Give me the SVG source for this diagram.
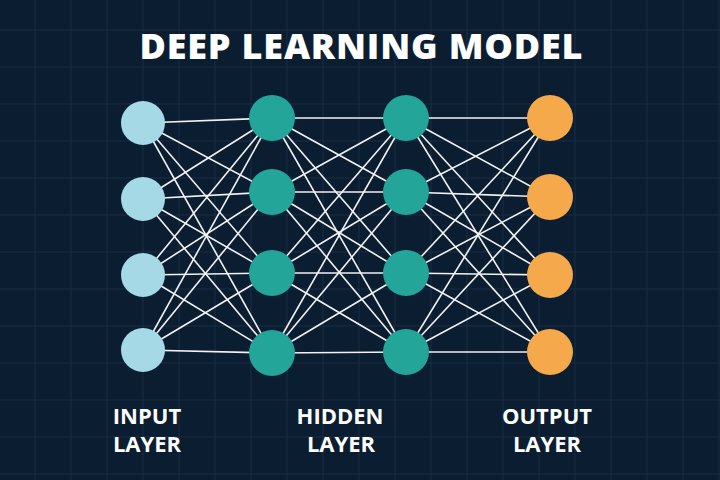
<svg xmlns="http://www.w3.org/2000/svg" width="720" height="480" viewBox="0 0 720 480">
<defs>
<pattern id="grid" x="0" y="-5" width="36" height="37" patternUnits="userSpaceOnUse">
<path d="M35 0V37M0 35H36" stroke="#172c43" stroke-width="1" fill="none"/>
</pattern>
<style>
.t{font-family:"Open Sans","Noto Sans","Liberation Sans",sans-serif;font-weight:800;fill:#ffffff;text-anchor:middle}
.l{font-weight:700}
.c line{stroke:#f2f2f2;stroke-width:1.6}
.in{fill:#a6d9e6}
.hd{fill:#24a599}
.out{fill:#f5a94b}
</style>
</defs>
<rect width="720" height="480" fill="#0b1d31"/>
<rect width="720" height="480" fill="url(#grid)"/>
<text class="t" x="361" y="59" font-size="36" textLength="443" lengthAdjust="spacing">DEEP LEARNING MODEL</text>
<g class="c" id="connectors">
<line x1="143" y1="123" x2="272" y2="118"/><line x1="143" y1="123" x2="272" y2="192"/><line x1="143" y1="123" x2="272" y2="273"/><line x1="143" y1="123" x2="272" y2="353"/>
<line x1="143" y1="199" x2="272" y2="118"/><line x1="143" y1="199" x2="272" y2="192"/><line x1="143" y1="199" x2="272" y2="273"/><line x1="143" y1="199" x2="272" y2="353"/>
<line x1="143" y1="275" x2="272" y2="118"/><line x1="143" y1="275" x2="272" y2="192"/><line x1="143" y1="275" x2="272" y2="273"/><line x1="143" y1="275" x2="272" y2="353"/>
<line x1="143" y1="350" x2="272" y2="118"/><line x1="143" y1="350" x2="272" y2="192"/><line x1="143" y1="350" x2="272" y2="273"/><line x1="143" y1="350" x2="272" y2="353"/>
<line x1="272" y1="118" x2="406" y2="118"/><line x1="272" y1="118" x2="406" y2="192"/><line x1="272" y1="118" x2="406" y2="273"/><line x1="272" y1="118" x2="406" y2="352"/>
<line x1="272" y1="192" x2="406" y2="118"/><line x1="272" y1="192" x2="406" y2="192"/><line x1="272" y1="192" x2="406" y2="273"/><line x1="272" y1="192" x2="406" y2="352"/>
<line x1="272" y1="273" x2="406" y2="118"/><line x1="272" y1="273" x2="406" y2="192"/><line x1="272" y1="273" x2="406" y2="273"/><line x1="272" y1="273" x2="406" y2="352"/>
<line x1="272" y1="353" x2="406" y2="118"/><line x1="272" y1="353" x2="406" y2="192"/><line x1="272" y1="353" x2="406" y2="273"/><line x1="272" y1="353" x2="406" y2="352"/>
<line x1="406" y1="118" x2="550" y2="118"/><line x1="406" y1="118" x2="550" y2="197"/><line x1="406" y1="118" x2="550" y2="275"/><line x1="406" y1="118" x2="550" y2="352"/>
<line x1="406" y1="192" x2="550" y2="118"/><line x1="406" y1="192" x2="550" y2="197"/><line x1="406" y1="192" x2="550" y2="275"/><line x1="406" y1="192" x2="550" y2="352"/>
<line x1="406" y1="273" x2="550" y2="118"/><line x1="406" y1="273" x2="550" y2="197"/><line x1="406" y1="273" x2="550" y2="275"/><line x1="406" y1="273" x2="550" y2="352"/>
<line x1="406" y1="352" x2="550" y2="118"/><line x1="406" y1="352" x2="550" y2="197"/><line x1="406" y1="352" x2="550" y2="275"/><line x1="406" y1="352" x2="550" y2="352"/>
</g>
<g id="input1"><circle class="in" cx="143" cy="123" r="22"/></g>
<g id="input2"><circle class="in" cx="143" cy="199" r="22"/></g>
<g id="input3"><circle class="in" cx="143" cy="275" r="22"/></g>
<g id="input4"><circle class="in" cx="143" cy="350" r="22"/></g>
<g id="hidden1a"><circle class="hd" cx="272" cy="118" r="23"/></g>
<g id="hidden1b"><circle class="hd" cx="272" cy="192" r="23"/></g>
<g id="hidden1c"><circle class="hd" cx="272" cy="273" r="23"/></g>
<g id="hidden1d"><circle class="hd" cx="272" cy="353" r="23"/></g>
<g id="hidden2a"><circle class="hd" cx="406" cy="118" r="23"/></g>
<g id="hidden2b"><circle class="hd" cx="406" cy="192" r="23"/></g>
<g id="hidden2c"><circle class="hd" cx="406" cy="273" r="23"/></g>
<g id="hidden2d"><circle class="hd" cx="406" cy="352" r="23"/></g>
<g id="output1"><circle class="out" cx="550" cy="118" r="23"/></g>
<g id="output2"><circle class="out" cx="550" cy="197" r="23"/></g>
<g id="output3"><circle class="out" cx="550" cy="275" r="23"/></g>
<g id="output4"><circle class="out" cx="550" cy="352" r="23"/></g>
<g id="labels">
<text class="t l" x="147" y="424" font-size="22">INPUT</text>
<text class="t l" x="147" y="452" font-size="22">LAYER</text>
<text class="t l" x="340" y="424" font-size="22">HIDDEN</text>
<text class="t l" x="341" y="452" font-size="22">LAYER</text>
<text class="t l" x="547" y="424" font-size="22">OUTPUT</text>
<text class="t l" x="547" y="452" font-size="22">LAYER</text>
</g>
</svg>
